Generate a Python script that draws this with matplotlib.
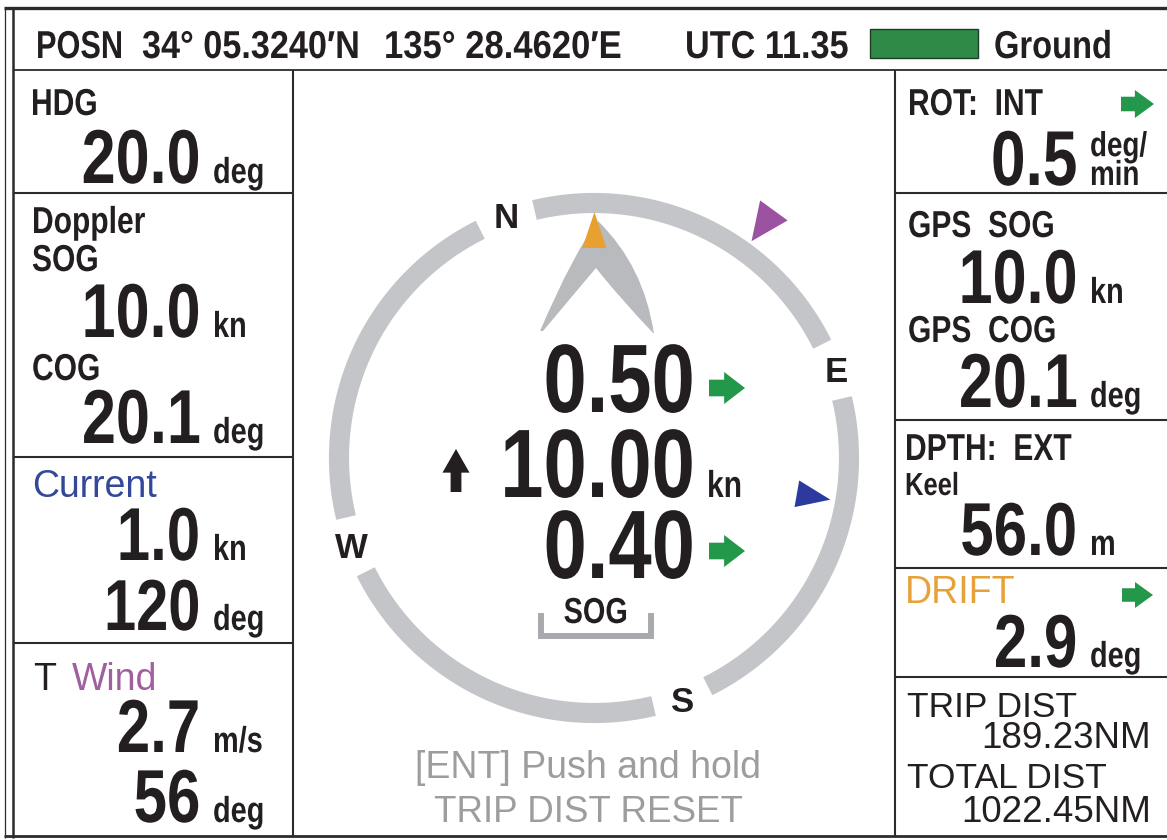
import numpy as np
import matplotlib
matplotlib.use('Agg')
import matplotlib.pyplot as plt
import matplotlib.patches as patches
import matplotlib.patheffects as pe
from matplotlib.transforms import Affine2D
from matplotlib.path import Path

# values shown on the display
posn_lat = "34° 05.3240′N"
posn_lon = "135° 28.4620′E"
utc_time = "11.35"
track_mode = "Ground"
hdg = 20.0
doppler_sog = 10.0
doppler_cog = 20.1
current_spd = 1.0
current_dir = 120
wind_spd = 2.7
wind_dir = 56
rot = 0.5
gps_sog = 10.0
gps_cog = 20.1
depth = 56.0
drift = 2.9
trip_dist = 189.23
total_dist = 1022.45
centre_speeds = [0.50, 10.00, 0.40]     # bow athwart / fore-aft / stern athwart
cardinals = ['N', 'E', 'S', 'W']

INK = '#231f20'
GREEN = '#23974a'
RING = '#c4c5c9'
FRAME = '#2b2b2b'

fig = plt.figure(figsize=(11.67, 8.4), dpi=100)
ax = fig.add_axes([0, 0, 1, 1])
ax.set_xlim(0, 1167)
ax.set_ylim(840, 0)
ax.axis('off')


class Squash(pe.AbstractPathEffect):
    # narrows the glyphs so Liberation Sans Bold looks like a condensed face
    def __init__(self, sx, k):
        super().__init__()
        self.sx = sx
        self.k = k

    def draw_path(self, renderer, gc, tpath, affine, rgbFace=None):
        x1 = tpath.get_extents().x1
        pre = Affine2D().scale(self.sx, 1).translate((1 - self.sx) * x1 * self.k, 0)
        renderer.draw_path(gc, tpath, pre + affine, rgbFace)


KA = {'left': 0.0, 'center': 0.5, 'right': 1.0}


def ctext(x, y, s, size, ha='left', color=INK, sx=0.8, **kw):
    ax.text(x, y, s, fontsize=size, ha=ha, va='baseline', color=color,
            family=['Liberation Sans', 'DejaVu Sans'], weight='bold',
            path_effects=[Squash(sx, KA[ha])], **kw)


def ntext(x, y, s, size, ha='left', color=INK, weight='normal'):
    ax.text(x, y, s, fontsize=size, ha=ha, va='baseline', color=color,
            family=['Liberation Sans', 'DejaVu Sans'], weight=weight)


def hline(y, x0, x1, lw=1.5):
    ax.plot([x0, x1], [y, y], color=FRAME, lw=lw, solid_capstyle='butt')


def vline(x, y0, y1, lw=1.5):
    ax.plot([x, x], [y0, y1], color=FRAME, lw=lw, solid_capstyle='butt')


def green_arrow(x, yc, w=34, h=30):
    pts = [(x, yc - 0.26 * h), (x + 0.42 * w, yc - 0.26 * h), (x + 0.42 * w, yc - 0.5 * h),
           (x + w, yc), (x + 0.42 * w, yc + 0.5 * h), (x + 0.42 * w, yc + 0.26 * h),
           (x, yc + 0.26 * h)]
    ax.add_patch(patches.Polygon(pts, closed=True, facecolor=GREEN, lw=0))


# ---- frame ----
hline(8, 4, 1167, lw=2.4)
hline(70, 13, 1167, lw=1.3)
hline(836, 4, 1167, lw=2.0)
vline(5, 8, 838, lw=0.9)
vline(13, 8, 838, lw=1.8)
vline(293, 70, 836)
vline(895, 70, 836)
for y in [193, 457, 643]:
    hline(y, 13, 293)
for y in [193, 420, 568, 677]:
    hline(y, 895, 1167)

# ---- header ----
ctext(36, 58, "POSN", 28, sx=0.79)
ctext(142, 58, posn_lat, 28, sx=0.88)
ctext(384, 58, posn_lon, 28, sx=0.89)
ctext(685, 58, "UTC " + utc_time, 28, sx=0.88)
ax.add_patch(patches.Rectangle((870, 29), 108, 29, facecolor='#2f8a48', edgecolor='#1d3d25', lw=1))
ctext(994, 58, track_mode, 28, sx=0.84)

# ---- left column ----
VX, UX = 201, 213
ctext(31, 115, "HDG", 27)
ctext(VX, 183, f"{hdg:.1f}", 55, ha='right')
ctext(UX, 183, "deg", 26)

ctext(32, 233, "Doppler", 27)
ctext(32, 271, "SOG", 27)
ctext(VX, 337, f"{doppler_sog:.1f}", 55, ha='right')
ctext(UX, 337, "kn", 26)
ctext(32, 380, "COG", 27)
ctext(VX, 443, f"{doppler_cog:.1f}", 55, ha='right')
ctext(UX, 443, "deg", 26)

ntext(32, 497, "Current", 27, color='#34489a')
ctext(VX, 560, f"{current_spd:.1f}", 54, ha='right')
ctext(UX, 560, "kn", 26)
ctext(VX, 630, f"{current_dir:d}", 52, ha='right')
ctext(UX, 630, "deg", 26)

ntext(33, 690, "T", 27)
ntext(72, 690, "Wind", 27, color='#a0609f')
ctext(VX, 752, f"{wind_spd:.1f}", 54, ha='right')
ctext(UX, 752, "m/s", 26)
ctext(VX, 822, f"{wind_dir:d}", 54, ha='right')
ctext(UX, 822, "deg", 26)

# ---- right column ----
RX, RU = 1078, 1090
ctext(908, 115, "ROT:  INT", 27)
green_arrow(1121, 104, 33, 28)
ctext(RX, 185, f"{rot:.1f}", 56, ha='right')
ctext(RU, 185, "deg/\nmin", 25, linespacing=0.84)

ctext(908, 237, "GPS  SOG", 27)
ctext(RX, 303, f"{gps_sog:.1f}", 55, ha='right')
ctext(RU, 303, "kn", 26)
ctext(908, 342, "GPS  COG", 27)
ctext(RX, 407, f"{gps_cog:.1f}", 55, ha='right')
ctext(RU, 407, "deg", 26)

ctext(905, 460, "DPTH:  EXT", 27)
ctext(905, 495, "Keel", 23)
ctext(RX, 555, f"{depth:.1f}", 54, ha='right')
ctext(RU, 555, "m", 26)

ntext(905, 603, "DRIFT", 27, color='#e6a23a')
green_arrow(1122, 595, 31, 26)
ctext(RX, 667, f"{drift:.1f}", 54, ha='right')
ctext(RU, 667, "deg", 26)

ntext(907, 717, "TRIP DIST", 25.5)
ntext(1151, 748, f"{trip_dist:.2f}NM", 26.5, ha='right')
ntext(907, 788, "TOTAL DIST", 25.5)
ntext(1151, 822, f"{total_dist:.2f}NM", 26.5, ha='right')

# ---- compass ring (head-up, rotated by heading) ----
CX, CY, R = 594, 458, 255
GAP = 6.5
for k, lab in enumerate(cardinals):
    b0 = k * 90 - hdg + GAP
    b1 = k * 90 + 90 - hdg - GAP
    b = np.deg2rad(np.linspace(b0, b1, 120))
    ax.plot(CX + R * np.sin(b), CY - R * np.cos(b), color=RING, lw=14.5, solid_capstyle='butt')
    bl = np.deg2rad(k * 90 - hdg)
    ax.text(CX + 258 * np.sin(bl), CY - 258 * np.cos(bl) + 12, lab, fontsize=25,
            ha='center', va='baseline', color=INK, weight='bold', family='Liberation Sans')


def pointer(bearing, r_tip, r_base, base, color):
    t = np.deg2rad(bearing)
    u = np.array([np.sin(t), -np.cos(t)])
    n = np.array([np.cos(t), np.sin(t)])
    c = np.array([CX, CY])
    tip = c + r_tip * u
    bm = c + r_base * u
    ax.add_patch(patches.Polygon([tip, bm + n * base / 2, bm - n * base / 2],
                                 closed=True, facecolor=color, lw=0, zorder=4))


# own-ship bow marker
sx0 = CX + 2
bow = Path([(sx0 - 56, 331), (sx0 - 22, 252), (sx0 + 2, 221),
            (sx0 + 48, 266), (sx0 + 58, 334),
            (sx0 + 22, 296), (sx0, 268),
            (sx0 - 22, 294), (sx0 - 53, 331), (sx0 - 56, 331)],
           [Path.MOVETO, Path.CURVE3, Path.CURVE3, Path.CURVE3, Path.CURVE3,
            Path.CURVE3, Path.CURVE3, Path.CURVE3, Path.CURVE3, Path.CLOSEPOLY])
ax.add_patch(patches.PathPatch(bow, facecolor='#b9babe', lw=0, zorder=3))

pointer(doppler_cog - hdg, 246, 210, 24, '#e8a030')
pointer(wind_dir - hdg, 268, 306, 34, '#9b52a0')
pointer(current_dir - hdg, 240, 206, 27, '#2c3a9e')

# ---- centre speed readouts ----
CR = 696
for v, yb in zip(centre_speeds, [412, 497, 578]):
    ctext(CR, yb, f"{v:.2f}", 70, ha='right')
ctext(707, 497, "kn", 27)
green_arrow(709, 388, 36, 32)
green_arrow(709, 551, 36, 32)
ua_x, ua_top, ua_w, ua_h = 456, 449, 27, 43
ax.add_patch(patches.Polygon([(ua_x, ua_top), (ua_x + ua_w / 2, ua_top + 0.55 * ua_h),
                              (ua_x + 0.2 * ua_w, ua_top + 0.55 * ua_h), (ua_x + 0.2 * ua_w, ua_top + ua_h),
                              (ua_x - 0.2 * ua_w, ua_top + ua_h), (ua_x - 0.2 * ua_w, ua_top + 0.55 * ua_h),
                              (ua_x - ua_w / 2, ua_top + 0.55 * ua_h)],
                             closed=True, facecolor=INK, lw=0))

ctext(596, 623, "SOG", 26, ha='center')
ax.plot([541, 541, 651, 651], [613, 636, 636, 613], color='#a9aaae', lw=4.3,
        solid_joinstyle='miter', solid_capstyle='butt')

ntext(588, 778, "[ENT] Push and hold", 27, ha='center', color='#9d9d9f')
ntext(588, 822, "TRIP DIST RESET", 26.5, ha='center', color='#9d9d9f')

fig.savefig('out.png', dpi=100)
